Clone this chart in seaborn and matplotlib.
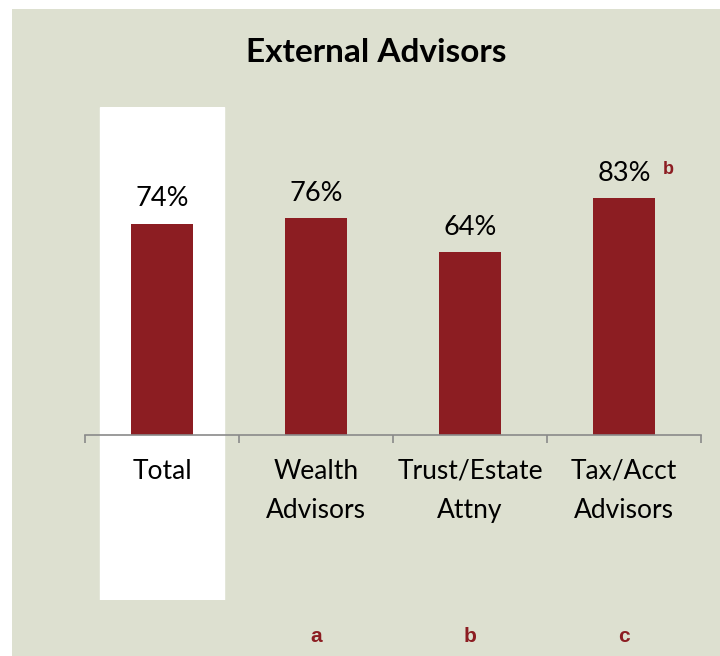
import matplotlib.pyplot as plt
import matplotlib.patches as mpatches
import numpy as np
import pandas as pd
import seaborn as sns

# Chart data
categories = ["Total", "Wealth\nAdvisors", "Trust/Estate\nAttny", "Tax/Acct\nAdvisors"]
values = [74, 76, 64, 83]
group_letters = ["", "a", "b", "c"]
sig_marks = ["", "", "", "b"]

bar_color = "#8c1d22"
bg_color = "#dde0d0"

sns.set_theme(style="white")
plt.rcParams["font.family"] = ["Lato", "DejaVu Sans"]

df = pd.DataFrame({"group": categories, "pct": values})

fig = plt.figure(figsize=(7.2, 6.56), dpi=100)
fig.patch.set_facecolor("white")
# beige panel behind the chart
fig.patches.append(
    mpatches.Rectangle((12 / 720, 0), 1, 1 - 9 / 656, transform=fig.transFigure,
                       facecolor=bg_color, edgecolor="none", zorder=-1)
)

ax = fig.add_axes([85 / 720, 56 / 656, 616 / 720, 493 / 656])
ax.set_facecolor("none")

# white highlight column for the Total group
ax.axvspan(-0.4, 0.4, color="white", zorder=0)

sns.barplot(data=df, x="group", y="pct", color=bar_color, width=0.4,
            saturation=1, linewidth=0, ax=ax, zorder=2)

ax.set_xlim(-0.5, 3.5)
ax.set_ylim(-57.8, 114.9)

for i, v in enumerate(values):
    ax.text(i, v + 4.3, f"{v}%", ha="center", va="bottom", fontsize=19.5, color="black")
    if sig_marks[i]:
        ax.text(i + 0.25, v + 7.2, sig_marks[i], ha="left", va="bottom",
                fontsize=13, fontweight="bold", color=bar_color,
                family="Liberation Sans")
    if group_letters[i]:
        ax.text(i, -70.5, group_letters[i], ha="center", va="center",
                fontsize=15, fontweight="bold", color=bar_color,
                family="Liberation Sans", clip_on=False)

# axis styling
for side in ["top", "right", "left"]:
    ax.spines[side].set_visible(False)
ax.spines["bottom"].set_position(("data", 0))
ax.spines["bottom"].set_color("#8a8a8a")
ax.spines["bottom"].set_linewidth(1.2)
ax.set_yticks([])
ax.set_xticks(np.arange(-0.5, 4, 1), minor=True)
ax.tick_params(axis="x", which="minor", length=6, width=1.2, color="#8a8a8a",
               direction="out", bottom=True)
ax.tick_params(axis="x", which="major", length=0, pad=17, labelsize=19,
               labelcolor="black")
for lbl in ax.get_xticklabels():
    lbl.set_linespacing(1.7)
ax.set_xlabel("")
ax.set_ylabel("")

fig.text(376 / 720, 1 - 53 / 656, "External Advisors", ha="center", va="center",
         fontsize=24, fontweight="bold", color="black")

fig.savefig("out.png", dpi=100)
